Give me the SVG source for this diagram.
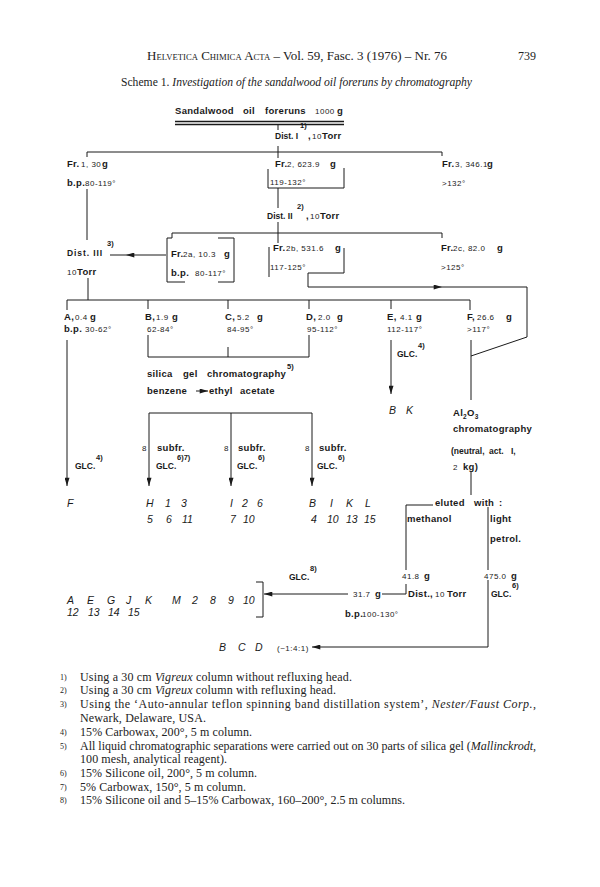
<svg xmlns="http://www.w3.org/2000/svg" width="600" height="887" viewBox="0 0 600 887">
<style>
.hd{font-family:"Liberation Serif","Times New Roman",serif;font-size:12px;fill:#222}
.fn{font-family:"Liberation Serif","Times New Roman",serif;font-size:12px;fill:#222}
.fm{font-family:"Liberation Serif","Times New Roman",serif;font-size:8px;fill:#222}
.t{font-family:"Liberation Sans",Arial,sans-serif;font-weight:bold;font-size:9.5px;letter-spacing:0.3px;fill:#1a1a1a}
.d{font-family:"Liberation Sans",Arial,sans-serif;font-weight:bold;font-size:8.5px;fill:#1a1a1a}
.s{font-family:"Liberation Sans",Arial,sans-serif;font-size:8px;letter-spacing:0.5px;fill:#1a1a1a}
.u{font-family:"Liberation Sans",Arial,sans-serif;font-weight:bold;font-size:7.5px;fill:#1a1a1a}
.g{font-family:"Liberation Sans",Arial,sans-serif;font-weight:bold;font-size:8.5px;fill:#1a1a1a}
.i{font-family:"Liberation Sans",Arial,sans-serif;font-style:italic;font-size:10.5px;fill:#1a1a1a}
.c{stroke:#1a1a1a;stroke-width:1;fill:none}
.a{stroke:#1a1a1a;stroke-width:1;fill:none;marker-end:url(#ah)}
</style>
<defs>
<marker id="ah" viewBox="0 0 10 6" refX="10" refY="3" markerWidth="9" markerHeight="5" markerUnits="userSpaceOnUse" orient="auto"><path d="M0,0 L10,3 L0,6 Z" fill="#1a1a1a"/></marker>
</defs>
<rect width="600" height="887" fill="#fff"/>

<g id="header">
<text class="hd" x="147" y="60" textLength="300" lengthAdjust="spacingAndGlyphs"><tspan style="font-variant:small-caps">Helvetica Chimica Acta</tspan> – Vol. 59, Fasc. 3 (1976) – Nr. 76</text>
<text class="hd" x="536" y="60" text-anchor="end">739</text>
<text class="hd" x="121" y="86" textLength="351" lengthAdjust="spacingAndGlyphs">Scheme 1. <tspan font-style="italic">Investigation of the sandalwood oil foreruns by chromatography</tspan></text>
</g>

<g id="connectors">
<line x1="175" y1="121.5" x2="344" y2="121.5" stroke="#1a1a1a" stroke-width="1.4"/>
<line x1="175" y1="124.5" x2="344" y2="124.5" stroke="#1a1a1a" stroke-width="1.4"/>
<path class="c" d="M278,125 V130 M278,146 V158"/>
<path class="c" d="M87,157 V152 H442 V156"/>
<path class="c" d="M268,169 V188 H344 V168"/>
<path class="c" d="M278,188 V208 M278,222 V243"/>
<path class="c" d="M87,189 V240"/>
<path class="c" d="M172,233 H442 V238 M172,233 V238"/>
<path class="c" d="M172,238 H167 V282 H185 M218,238 H234 V282 H218"/>
<path class="a" d="M166,255 H126"/>
<path class="c" d="M126,255 H110"/>
<path class="c" d="M88,278 V300"/>
<path class="c" d="M269,247 V277"/>
<path class="c" d="M344,248 V273 H308 V287"/>
<path class="a" d="M308,287 H442"/>
<path class="c" d="M442,287 H527 V337 L471,356"/>
<path class="c" d="M67,310 V300 H470 V310 M148,300 V309 M228,300 V309 M309,300 V309 M391,300 V309"/>
<path class="a" d="M67,340 V486"/>
<path class="c" d="M148,335 V357 H309 V335 M228,347 V357"/>
<path class="a" d="M391,340 V394"/>
<path class="c" d="M471,340 V400"/>
<path class="c" d="M149,413 H312"/>
<path class="a" d="M149,413 V486"/>
<path class="a" d="M231,413 V486"/>
<path class="a" d="M312,413 V486"/>
<path class="c" d="M471,472 V495"/>
<path class="c" d="M433,505 H406 V570 M406,584 V594 H382"/>
<path class="a" d="M348,594 H264"/>
<path class="c" d="M256,582 H263 V617 H256"/>
<path class="c" d="M488,507 V570"/>
<path class="a" d="M488,580 V647 H312"/>
</g>

<g id="n-start">
<text class="t" y="114" font-size="10"><tspan x="175">Sandalwood</tspan><tspan x="243">oil</tspan><tspan x="265">foreruns</tspan></text>
<text class="s" x="315" y="114">1000</text><text class="t" x="337" y="114" font-size="10">g</text>
</g>

<g id="n-dist1">
<text class="d" x="275" y="139">Dist. I</text><text class="u" x="300" y="128">1)</text>
<text class="t" x="308" y="139">,</text><text class="s" x="312" y="139">10</text><text class="t" x="322" y="139">Torr</text>
</g>

<g id="n-fr1">
<text class="t" x="67" y="167">Fr.</text><text class="s" x="81" y="167">1, 30</text><text class="t" x="102" y="167">g</text>
<text class="t" x="67" y="186">b.p.</text><text class="s" x="85" y="186">80-119°</text>
</g>

<g id="n-fr2">
<text class="t" x="275" y="167">Fr.</text><text class="s" x="287" y="167">2, 623.9</text><text class="t" x="330" y="167">g</text>
<text class="s" x="270" y="185">119-132°</text>
</g>

<g id="n-fr3">
<text class="t" x="442" y="167">Fr.</text><text class="s" x="455" y="167">3, 346.1</text><text class="t" x="487" y="167">g</text>
<text class="s" x="442" y="186">&gt;132°</text>
</g>

<g id="n-dist2">
<text class="d" x="267" y="219">Dist. II</text><text class="u" x="297" y="209">2)</text>
<text class="t" x="306" y="219">,</text><text class="s" x="310" y="219">10</text><text class="t" x="320" y="219">Torr</text>
</g>

<g id="n-fr2a">
<text class="t" x="171" y="257">Fr.</text><text class="s" x="183" y="257">2a, 10.3</text><text class="t" x="224" y="257">g</text>
<text class="t" x="171" y="276">b.p.</text><text class="s" x="195" y="276">80-117°</text>
</g>

<g id="n-dist3">
<text class="d" x="67" y="256" letter-spacing="0.9">Dist. III</text><text class="u" x="107" y="246">3)</text>
<text class="s" x="67" y="275">10</text><text class="t" x="77" y="275">Torr</text>
</g>

<g id="n-fr2b">
<text class="t" x="273" y="251">Fr.</text><text class="s" x="286" y="251">2b, 531.6</text><text class="t" x="335" y="251">g</text>
<text class="s" x="270" y="270">117-125°</text>
</g>

<g id="n-fr2c">
<text class="t" x="441" y="251">Fr.</text><text class="s" x="453" y="251">2c, 82.0</text><text class="t" x="497" y="251">g</text>
<text class="s" x="441" y="270">&gt;125°</text>
</g>

<g id="n-A">
<text class="t" x="64" y="320">A,</text><text class="s" x="75" y="320">0.4</text><text class="t" x="90" y="320">g</text>
<text class="t" x="64" y="332">b.p.</text><text class="s" x="85" y="332">30-62°</text>
</g>
<g id="n-B">
<text class="t" x="145" y="320">B,</text><text class="s" x="156" y="320">1.9</text><text class="t" x="172" y="320">g</text>
<text class="s" x="147" y="332">62-84°</text>
</g>
<g id="n-C">
<text class="t" x="225" y="320">C,</text><text class="s" x="237" y="320">5.2</text><text class="t" x="257" y="320">g</text>
<text class="s" x="227" y="332">84-95°</text>
</g>
<g id="n-D">
<text class="t" x="306" y="320">D,</text><text class="s" x="318" y="320">2.0</text><text class="t" x="337" y="320">g</text>
<text class="s" x="307" y="332">95-112°</text>
</g>
<g id="n-E">
<text class="t" x="387" y="320">E,</text><text class="s" x="400" y="320">4.1</text><text class="t" x="416" y="320">g</text>
<text class="s" x="387" y="332">112-117°</text>
</g>
<g id="n-F">
<text class="t" x="467" y="320">F,</text><text class="s" x="477" y="320">26.6</text><text class="t" x="506" y="320">g</text>
<text class="s" x="467" y="332">&gt;117°</text>
</g>

<g id="n-silica">
<text class="t" y="377"><tspan x="147">silica</tspan><tspan x="183">gel</tspan><tspan x="207">chromatography</tspan></text><text class="u" x="287" y="369">5)</text>
<text class="t" y="394"><tspan x="147">benzene</tspan><tspan x="209">ethyl</tspan><tspan x="240">acetate</tspan></text>
<path class="a" d="M196,391 H208"/>
</g>

<g id="n-glcE">
<text class="g" x="397" y="357">GLC.</text><text class="u" x="418" y="348">4)</text>
<text class="i" y="414"><tspan x="389">B</tspan><tspan x="406">K</tspan></text>
</g>

<g id="n-al2o3">
<text class="t" x="453" y="416">Al<tspan dy="3" font-size="6.5">2</tspan><tspan dy="-3">O</tspan><tspan dy="3" font-size="6.5">3</tspan></text>
<text class="t" x="453" y="432">chromatography</text>
<text class="d" x="451" y="454">(neutral,</text>
<text class="d" x="489" y="454">act.</text>
<text class="d" x="511" y="454">I,</text>
<text class="s" x="453" y="470">2</text><text class="t" x="463" y="470">kg)</text>
</g>

<g id="n-subfr">
<text class="g" x="75" y="469">GLC.</text><text class="u" x="96" y="460">4)</text>
<text class="s" x="142" y="451">8</text><text class="t" x="157" y="451">subfr.</text>
<text class="g" x="156" y="469">GLC.</text><text class="u" x="177" y="460">6)7)</text>
<text class="s" x="224" y="451">8</text><text class="t" x="238" y="451">subfr.</text>
<text class="g" x="237" y="469">GLC.</text><text class="u" x="258" y="460">6)</text>
<text class="s" x="305" y="451">8</text><text class="t" x="319" y="451">subfr.</text>
<text class="g" x="317" y="469">GLC.</text><text class="u" x="338" y="460">6)</text>
</g>

<g id="n-results">
<text class="i" x="67" y="507">F</text>
<text class="i" y="507"><tspan x="146">H</tspan><tspan x="165">1</tspan><tspan x="181">3</tspan></text>
<text class="i" y="523"><tspan x="147">5</tspan><tspan x="166">6</tspan><tspan x="182">11</tspan></text>
<text class="i" y="507"><tspan x="230">I</tspan><tspan x="242">2</tspan><tspan x="257">6</tspan></text>
<text class="i" y="523"><tspan x="230">7</tspan><tspan x="243">10</tspan></text>
<text class="i" y="507"><tspan x="309">B</tspan><tspan x="330">I</tspan><tspan x="346">K</tspan><tspan x="365">L</tspan></text>
<text class="i" y="523"><tspan x="311">4</tspan><tspan x="327">10</tspan><tspan x="346">13</tspan><tspan x="364">15</tspan></text>
</g>

<g id="n-eluted">
<text class="t" y="506"><tspan x="435">eluted</tspan><tspan x="474">with</tspan><tspan x="499">:</tspan></text>
<text class="t" x="407" y="522">methanol</text>
<text class="t" x="490" y="522">light</text>
<text class="t" x="490" y="542">petrol.</text>
</g>

<g id="n-meth">
<text class="s" x="402" y="579">41.8</text><text class="t" x="424" y="579">g</text>
<text class="t" x="408" y="597">Dist.,</text><text class="s" x="435" y="597">10</text><text class="t" x="447" y="597">Torr</text>
<text class="s" x="353" y="597">31.7</text><text class="t" x="375" y="597">g</text>
<text class="t" x="345" y="617">b.p.</text><text class="s" x="362" y="617">100-130°</text>
<text class="g" x="289" y="580">GLC.</text><text class="u" x="310" y="571">8)</text>
</g>

<g id="n-petrol">
<text class="s" x="484" y="579">475.0</text><text class="t" x="511" y="579">g</text>
<text class="g" x="491" y="597">GLC.</text><text class="u" x="512" y="588">6)</text>
</g>

<g id="n-final">
<text class="i" y="604"><tspan x="67">A</tspan><tspan x="87">E</tspan><tspan x="107">G</tspan><tspan x="126">J</tspan><tspan x="145">K</tspan><tspan x="172">M</tspan><tspan x="192">2</tspan><tspan x="210">8</tspan><tspan x="228">9</tspan><tspan x="243">10</tspan></text>
<text class="i" y="616"><tspan x="67">12</tspan><tspan x="88">13</tspan><tspan x="108">14</tspan><tspan x="128">15</tspan></text>
<text class="i" y="651"><tspan x="219">B</tspan><tspan x="238">C</tspan><tspan x="255">D</tspan></text>
<text class="s" x="277" y="651">(~1:4:1)</text>
</g>

<g id="footnotes">
<text class="fm" x="60" y="680">1)</text><text class="fn" x="80" y="681" textLength="272">Using a 30 cm <tspan font-style="italic">Vigreux</tspan> column without refluxing head.</text>
<text class="fm" x="60" y="693">2)</text><text class="fn" x="80" y="694" textLength="256">Using a 30 cm <tspan font-style="italic">Vigreux</tspan> column with refluxing head.</text>
<text class="fm" x="60" y="707">3)</text><text class="fn" x="80" y="708" textLength="456">Using the ‘Auto-annular teflon spinning band distillation system’, <tspan font-style="italic">Nester/Faust Corp.</tspan>,</text>
<text class="fn" x="80" y="722" textLength="126">Newark, Delaware, USA.</text>
<text class="fm" x="60" y="735">4)</text><text class="fn" x="80" y="736" textLength="172">15% Carbowax, 200°, 5 m column.</text>
<text class="fm" x="60" y="749">5)</text><text class="fn" x="80" y="750" textLength="456">All liquid chromatographic separations were carried out on 30 parts of silica gel (<tspan font-style="italic">Mallinckrodt</tspan>,</text>
<text class="fn" x="80" y="763" textLength="147">100 mesh, analytical reagent).</text>
<text class="fm" x="60" y="776">6)</text><text class="fn" x="80" y="777" textLength="177">15% Silicone oil, 200°, 5 m column.</text>
<text class="fm" x="60" y="790">7)</text><text class="fn" x="80" y="791" textLength="166">5% Carbowax, 150°, 5 m column.</text>
<text class="fm" x="60" y="803">8)</text><text class="fn" x="80" y="804" textLength="325">15% Silicone oil and 5–15% Carbowax, 160–200°, 2.5 m columns.</text>
</g>
</svg>
